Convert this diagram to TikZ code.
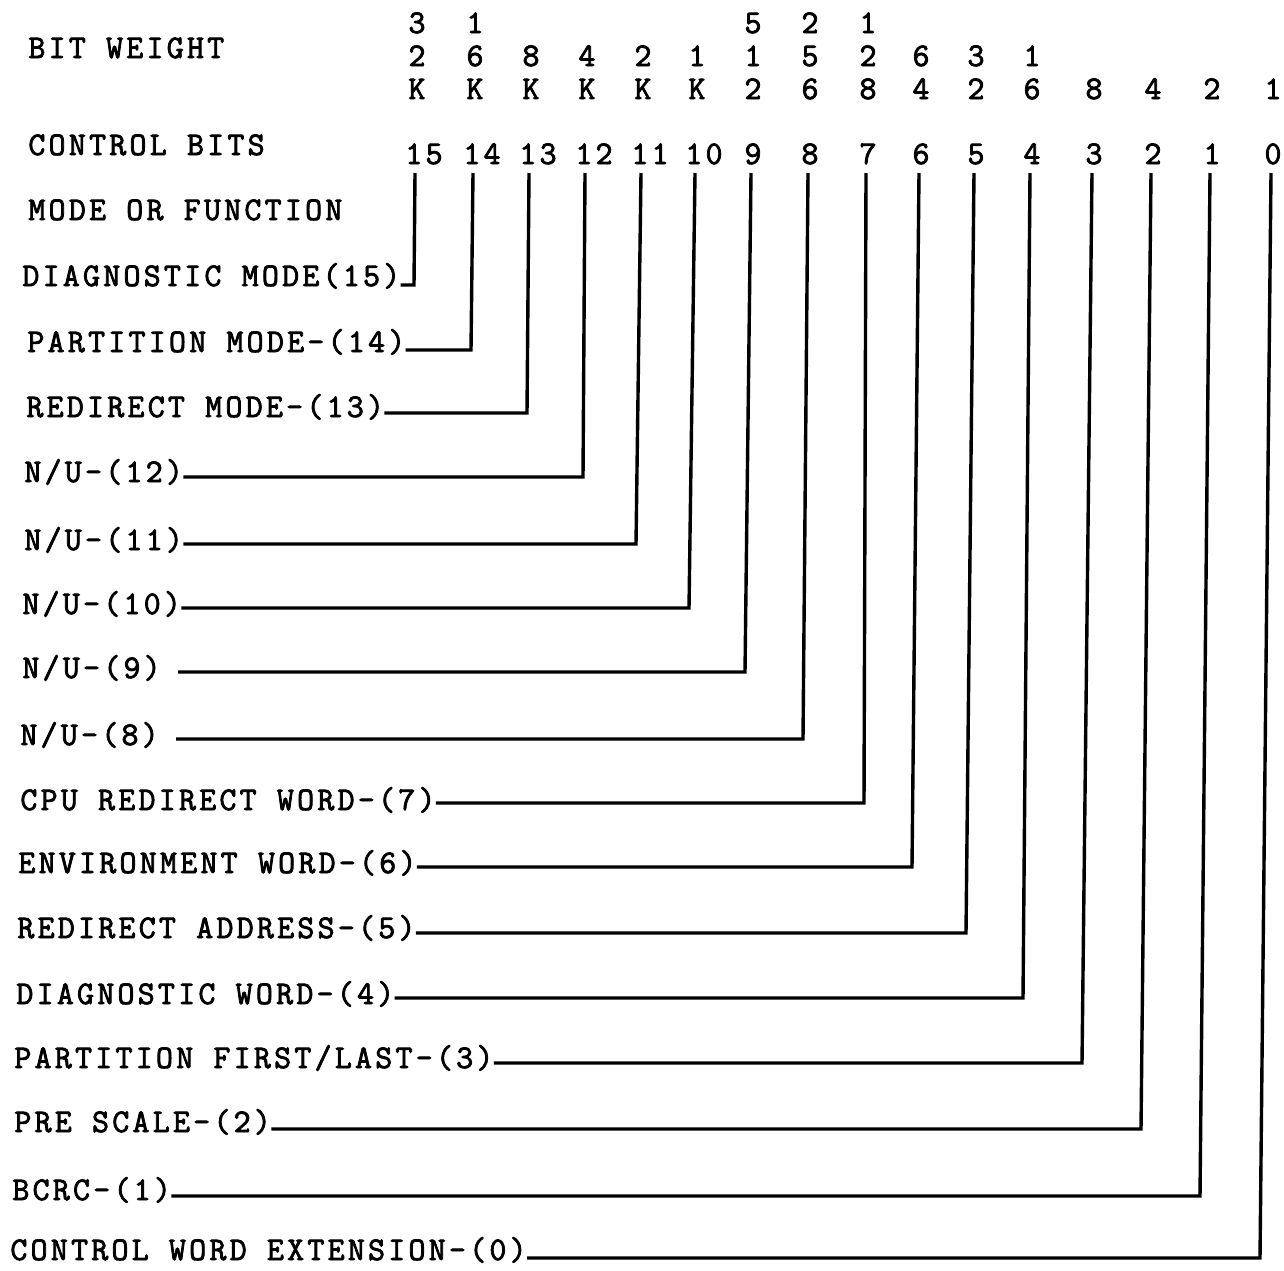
\documentclass[tikz,border=0pt]{standalone}
\usepackage{fontspec}
\newfontfamily\tw{Latin Modern Mono}[FakeBold=2.4,LetterSpace=9.8]
\begin{document}
\begin{tikzpicture}[x=0.5pt,y=-0.5pt,
  txt/.style={font=\tw\fontsize{16.5}{18}\selectfont, inner sep=0pt, anchor=base west},
  num/.style={font=\tw\fontsize{16.5}{18}\selectfont, inner sep=0pt, anchor=base},
  wire/.style={line width=1.7pt, line join=miter}]
\useasboundingbox (0,0) rectangle (1284,1270);

% header labels
\node[txt] (bw) at (28,58) {BIT WEIGHT};
\node[txt] (cb) at (28,155) {CONTROL BITS};
\node[txt] (mf) at (28,220) {MODE OR FUNCTION};

% bit weights
\foreach \n/\x/\r/\d in {
  15/417/1/3, 15/417/2/2, 15/417/3/K,
  14/475/1/1, 14/475/2/6, 14/475/3/K,
  13/531/2/8, 13/531/3/K,
  12/587/2/4, 12/587/3/K,
  11/643/2/2, 11/643/3/K,
  10/697/2/1, 10/697/3/K,
  9/753/1/5, 9/753/2/1, 9/753/3/2,
  8/810/1/2, 8/810/2/5, 8/810/3/6,
  7/868/1/1, 7/868/2/2, 7/868/3/8,
  6/921/2/6, 6/921/3/4,
  5/976/2/3, 5/976/3/2,
  4/1032/2/1, 4/1032/3/6,
  3/1094/3/8,
  2/1153/3/4,
  1/1212/3/2,
  0/1273/3/1}
  \node[num] (w\n-\r) at (\x,{33*\r}) {\d};

% control bit numbers
\foreach \n/\x in {15/424,14/482,13/538,12/594,11/650,10/704,9/753,8/810,
                   7/868,6/921,5/976,4/1032,3/1094,2/1153,1/1212,0/1273}
  \node[num] (n\n) at (\x,164) {\n};

% line tops (c) and corners (k)
\foreach \n/\xt/\xb/\y in {15/415/414/285, 14/473/471/350, 13/529/527/413,
   12/585/583/477, 11/641/636/544, 10/695/689/608, 9/751/745/672,
   8/808/803/739, 7/866/864/803, 6/919/912/867, 5/974/966/933,
   4/1030/1023/998, 3/1092/1082/1063, 2/1151/1141/1129,
   1/1210/1200/1196, 0/1271/1260/1258}{
  \coordinate (c\n) at (\xt,173);
  \coordinate (k\n) at (\xb,\y);
}

% function labels
\node[txt] (t15) at (22,286)  {DIAGNOSTIC MODE(15)};
\node[txt] (t14) at (27,352)  {PARTITION MODE-(14)};
\node[txt] (t13) at (26,417)  {REDIRECT MODE-(13)};
\node[txt] (t12) at (24,482)  {N/U-(12)};
\node[txt] (t11) at (24,550)  {N/U-(11)};
\node[txt] (t10) at (22,614)  {N/U-(10)};
\node[txt] (t9)  at (22,678)  {N/U-(9)\phantom{0}};
\node[txt] (t8)  at (20,745)  {N/U-(8)\phantom{0}};
\node[txt] (t7)  at (20,810)  {CPU REDIRECT WORD-(7)};
\node[txt] (t6)  at (18,873)  {ENVIRONMENT WORD-(6)};
\node[txt] (t5)  at (17,938)  {REDIRECT ADDRESS-(5)};
\node[txt] (t4)  at (16,1004) {DIAGNOSTIC WORD-(4)};
\node[txt] (t3)  at (14,1068) {PARTITION FIRST/LAST-(3)};
\node[txt] (t2)  at (14,1132) {PRE SCALE-(2)};
\node[txt] (t1)  at (12,1200) {BCRC-(1)};
\node[txt] (t0)  at (10,1260) {CONTROL WORD EXTENSION-(0)};

% connectors
\foreach \n in {15,14,...,0}
  \draw[wire] (t\n.base east |- k\n) -- (k\n) -- (c\n);
\end{tikzpicture}
\end{document}
